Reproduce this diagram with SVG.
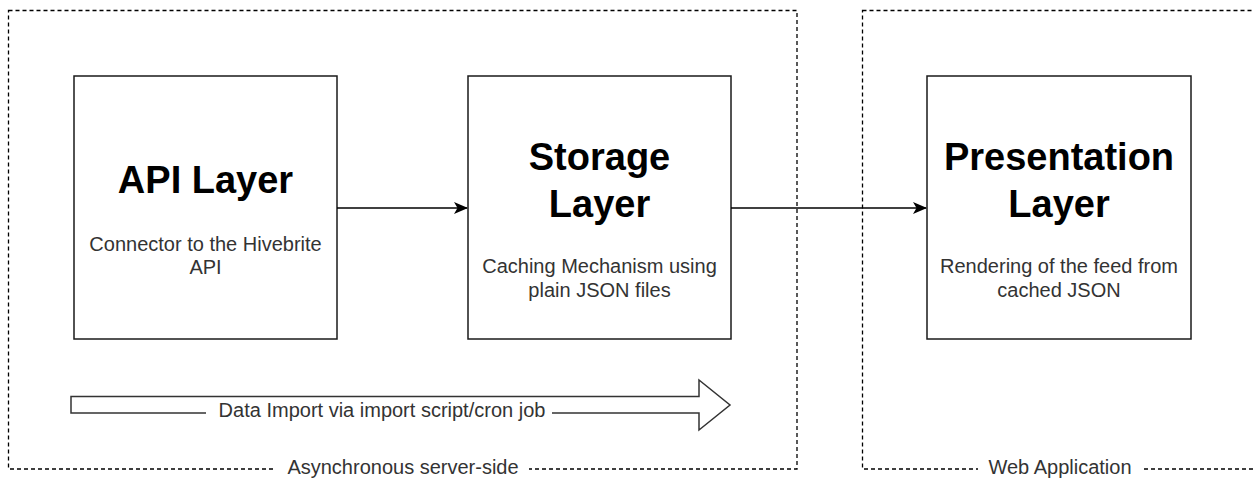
<svg xmlns="http://www.w3.org/2000/svg" width="1254" height="479" viewBox="0 0 1254 479">
<defs>
<style>
.grp{fill:none;stroke:#000;stroke-width:1.3;stroke-dasharray:4 3}
.box{fill:#fff;stroke:#1a1a1a;stroke-width:1.5}
.title{font-family:"Liberation Sans",Arial,sans-serif;font-weight:bold;font-size:38px;fill:#000;text-anchor:middle}
.sub{font-family:"Liberation Sans",Arial,sans-serif;font-size:20px;fill:#333;text-anchor:middle}
.lbl{font-family:"Liberation Sans",Arial,sans-serif;font-size:20px;fill:#333;text-anchor:middle}
.edge{fill:none;stroke:#000;stroke-width:1.5}
</style>
<marker id="arr" viewBox="0 0 14 12" refX="13" refY="6" markerWidth="14" markerHeight="12" markerUnits="userSpaceOnUse" orient="auto">
<path d="M0,0 L14,6 L0,12 L3.5,6 Z" fill="#000"/>
</marker>
</defs>
<rect width="1254" height="479" fill="#fff"/>

<g id="group-async">
<rect class="grp" x="8.5" y="10.5" width="788.5" height="458.5"/>
<rect x="273" y="458" width="256" height="22" fill="#fff"/>
<text class="lbl" x="403" y="474">Asynchronous server-side</text>
</g>

<g id="group-web">
<rect class="grp" x="862.5" y="10.5" width="400" height="458.5"/>
<rect x="978" y="458" width="163" height="22" fill="#fff"/>
<text class="lbl" x="1060" y="474">Web Application</text>
</g>

<g id="node-api">
<rect class="box" x="74" y="76" width="263" height="263"/>
<text class="title" x="205.5" y="193">API Layer</text>
<text class="sub" x="205.5" y="251">Connector to the Hivebrite</text>
<text class="sub" x="205.5" y="274">API</text>
</g>

<g id="node-storage">
<rect class="box" x="468" y="76" width="263" height="263"/>
<text class="title" x="599.5" y="170">Storage</text>
<text class="title" x="599.5" y="217">Layer</text>
<text class="sub" x="599.5" y="273">Caching Mechanism using</text>
<text class="sub" x="599.5" y="297">plain JSON files</text>
</g>

<g id="node-presentation">
<rect class="box" x="927" y="76" width="264" height="263"/>
<text class="title" x="1059" y="170">Presentation</text>
<text class="title" x="1059" y="217">Layer</text>
<text class="sub" x="1059" y="273">Rendering of the feed from</text>
<text class="sub" x="1059" y="297">cached JSON</text>
</g>

<g id="connectors">
<line class="edge" x1="337" y1="208" x2="467" y2="208" marker-end="url(#arr)"/>
<line class="edge" x1="731" y1="208" x2="926" y2="208" marker-end="url(#arr)"/>
<g id="data-import-arrow">
<polygon points="71,396.5 699,396.5 699,380 730,405 699,430 699,413 71,413" fill="#fff" stroke="#333" stroke-width="1.5" stroke-linejoin="miter"/>
<rect x="206" y="401" width="346" height="20" fill="#fff"/>
<text class="lbl" x="382" y="417">Data Import via import script/cron job</text>
</g>
</g>
</svg>
